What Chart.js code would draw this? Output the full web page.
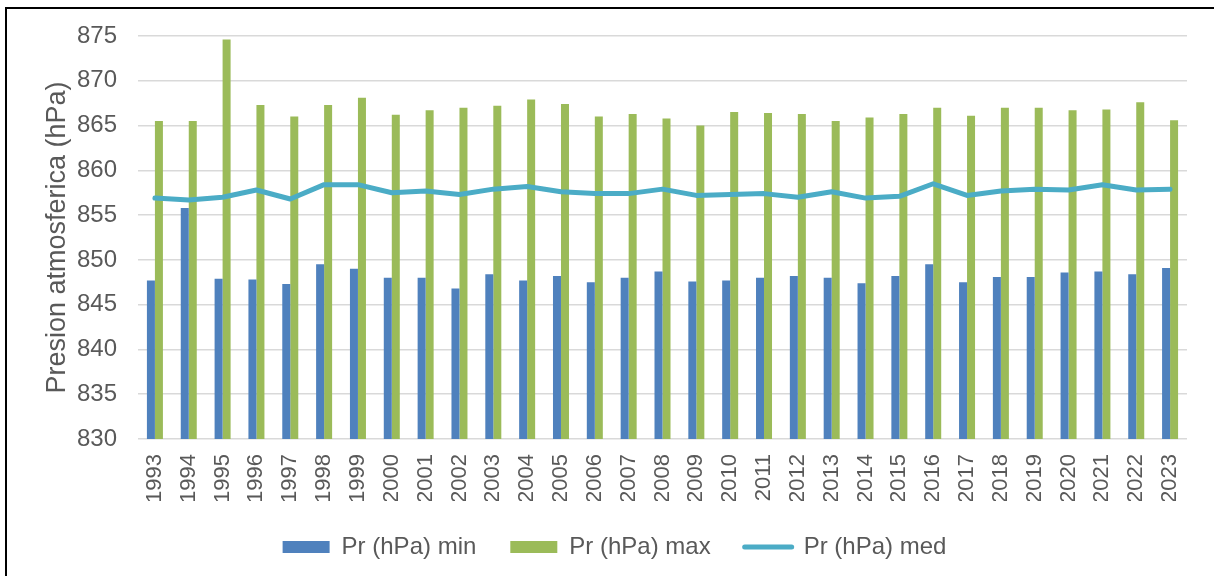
<!DOCTYPE html>
<html>
<head>
<meta charset="utf-8">
<script src="https://cdn.jsdelivr.net/npm/chart.js@4/dist/chart.umd.min.js"></script>
<style>
  html, body { margin: 0; padding: 0; background: #fff; overflow: hidden; }
  #wrap { position: relative; width: 1214px; height: 576px; }
  #c { position: absolute; left: 0; top: 0; }
  #frame { position: absolute; left: 5px; top: 7px; width: 1240px; height: 600px;
           border-left: 2px solid #000; border-top: 2px solid #000; pointer-events: none; }
</style>
</head>
<body>
<div id="wrap">
  <canvas id="c" width="1214" height="576"></canvas>
  <div id="frame"></div>
</div>
<script>
const years = ['1993','1994','1995','1996','1997','1998','1999','2000','2001','2002',
               '2003','2004','2005','2006','2007','2008','2009','2010','2011','2012',
               '2013','2014','2015','2016','2017','2018','2019','2020','2021','2022','2023'];
const prMin = [847.7, 855.8, 847.9, 847.8, 847.3, 849.5, 849.0, 848.0, 848.0, 846.8,
               848.4, 847.7, 848.2, 847.5, 848.0, 848.7, 847.6, 847.7, 848.0, 848.2,
               848.0, 847.4, 848.2, 849.5, 847.5, 848.1, 848.1, 848.6, 848.7, 848.4, 849.1];
const prMax = [865.5, 865.5, 874.6, 867.3, 866.0, 867.3, 868.1, 866.2, 866.7, 867.0,
               867.2, 867.9, 867.4, 866.0, 866.3, 865.8, 865.0, 866.5, 866.4, 866.3,
               865.5, 865.9, 866.3, 867.0, 866.1, 867.0, 867.0, 866.7, 866.8, 867.6, 865.6];
const prMed = [856.9, 856.7, 857.0, 857.8, 856.8, 858.4, 858.4, 857.5, 857.7, 857.3,
               857.9, 858.2, 857.6, 857.4, 857.4, 857.9, 857.2, 857.3, 857.4, 857.0,
               857.6, 856.9, 857.1, 858.5, 857.2, 857.7, 857.9, 857.8, 858.4, 857.8, 857.9];
const seriesNames = ['Pr (hPa) min', 'Pr (hPa) max', 'Pr (hPa) med'];
const yTitle = 'Presion atmosferica (hPa)';

const FONT = "'Liberation Sans', Arial, sans-serif";
const TXT = '#595959';

const shiftLegend = {
  id: 'shiftLegend',
  afterLayout(chart) {
    const l = chart.legend;
    if (l) { l.left += 21; l.right += 21; }
  }
};

new Chart(document.getElementById('c'), {
  data: {
    labels: years,
    datasets: [
      { type: 'bar', label: seriesNames[0], data: prMin, backgroundColor: '#4F81BD',
        categoryPercentage: 0.473, barPercentage: 1.0, order: 1 },
      { type: 'bar', label: seriesNames[1], data: prMax, backgroundColor: '#9BBB59',
        categoryPercentage: 0.473, barPercentage: 1.0, order: 1 },
      { type: 'line', label: seriesNames[2], data: prMed, borderColor: '#4BACC6',
        backgroundColor: '#4BACC6', borderWidth: 5, pointRadius: 0, tension: 0,
        borderJoinStyle: 'round', borderCapStyle: 'round', order: 0 }
    ]
  },
  plugins: [shiftLegend],
  options: {
    responsive: false,
    animation: false,
    events: [],
    layout: { padding: { left: 0, right: 27, top: 36, bottom: 7 } },
    plugins: {
      tooltip: { enabled: false },
      legend: {
        position: 'bottom',
        labels: {
          font: { family: FONT, size: 24 },
          color: TXT,
          usePointStyle: true,
          pointStyleWidth: 47,
          boxHeight: 12,
          padding: 34,
          sort: (a, b) => a.datasetIndex - b.datasetIndex,
          generateLabels(chart) {
            const items = Chart.defaults.plugins.legend.labels.generateLabels(chart);
            items.forEach(it => {
              const ds = chart.data.datasets[it.datasetIndex];
              if (ds.type === 'line') {
                it.pointStyle = 'line'; it.lineWidth = 5; it.strokeStyle = ds.borderColor;
                it.lineCap = 'round';
              } else {
                it.pointStyle = 'rect'; it.lineWidth = 0; it.fillStyle = ds.backgroundColor;
              }
            });
            return items;
          }
        }
      }
    },
    scales: {
      x: {
        grid: { display: false, drawTicks: false },
        border: { display: false },
        ticks: { autoSkip: false, maxRotation: 90, minRotation: 90, padding: 15,
                 color: TXT, font: { family: FONT, size: 22 } },
        afterFit(scale) { scale.height = 62; }
      },
      y: {
        min: 830, max: 875,
        grid: { color: '#D9D9D9', lineWidth: 1.5, drawTicks: false },
        border: { display: false },
        ticks: { stepSize: 5, padding: 21, color: TXT, font: { family: FONT, size: 24 } },
        title: { display: true, text: yTitle, color: TXT,
                 font: { family: FONT, size: 27 }, padding: { top: 41, bottom: 0 } },
        afterFit(scale) { scale.width = 138; }
      }
    }
  }
});
</script>
</body>
</html>
